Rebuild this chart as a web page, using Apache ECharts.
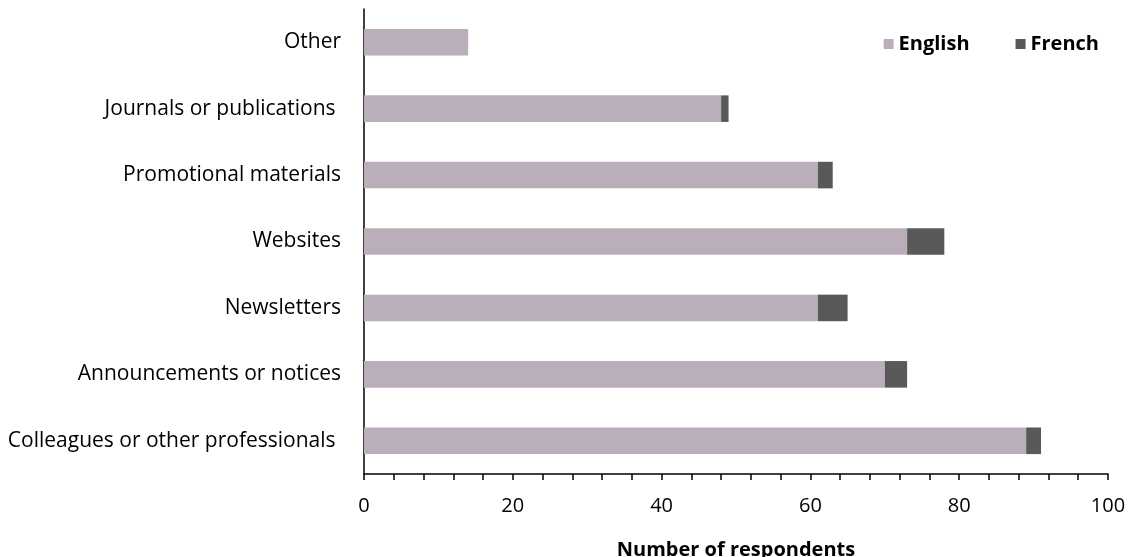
<!DOCTYPE html>
<html>
<head>
<meta charset="utf-8">
<script src="https://cdn.jsdelivr.net/npm/echarts@6/dist/echarts.min.js"></script>
<style>
  html, body { margin: 0; padding: 0; background: #fff; }
  #chart { width: 1130px; height: 557px; }
</style>
</head>
<body>
<div id="chart"></div>
<script>
// Sources of information, bottom to top
const categories = [
  'Colleagues or other professionals ',
  'Announcements or notices',
  'Newsletters',
  'Websites',
  'Promotional materials',
  'Journals or publications ',
  'Other'
];
const english = [89, 70, 61, 73, 61, 48, 14];
const french = [2, 3, 4, 5, 2, 1, 0];
const xTicks = [0, 20, 40, 60, 80, 100];

const FONT = '"Open Sans", sans-serif';

const chart = echarts.init(document.getElementById('chart'));
chart.setOption({
  animation: false,
  textStyle: { fontFamily: FONT },
  grid: {
    left: 364, right: 22, top: 9, bottom: 83,
    containLabel: false,
    outerBoundsMode: 'none'
  },
  legend: {
    top: 29,
    right: 26,
    itemWidth: 10,
    itemHeight: 10,
    itemGap: 46,
    icon: 'rect',
    textStyle: { fontFamily: FONT, fontSize: 20, fontWeight: 'bold', color: '#000' },
    data: ['English', 'French']
  },
  xAxis: {
    type: 'value',
    min: xTicks[0],
    max: xTicks[xTicks.length - 1],
    interval: 20,
    splitLine: { show: false },
    axisLine: { show: true, lineStyle: { color: '#000', width: 1.5 } },
    axisTick: { show: true, length: 6, lineStyle: { color: '#000', width: 1.5 } },
    minorTick: { show: true, splitNumber: 5, length: 6, lineStyle: { color: '#000', width: 1.5 } },
    axisLabel: { fontFamily: FONT, fontSize: 20, color: '#000', margin: 22 },
    name: 'Number of respondents',
    nameLocation: 'middle',
    nameGap: 66,
    nameTextStyle: { fontFamily: FONT, fontSize: 20, fontWeight: 'bold', color: '#000' }
  },
  yAxis: {
    type: 'category',
    data: categories,
    axisLine: { show: true, lineStyle: { color: '#000', width: 1.5 } },
    axisTick: { show: false },
    axisLabel: { fontFamily: FONT, fontSize: 21, color: '#000', margin: 23 }
  },
  series: [
    {
      name: 'English',
      type: 'bar',
      stack: 'total',
      barWidth: '40%',
      itemStyle: { color: '#B9AEBA' },
      data: english
    },
    {
      name: 'French',
      type: 'bar',
      stack: 'total',
      itemStyle: { color: '#595959' },
      data: french
    }
  ]
});
</script>
</body>
</html>
